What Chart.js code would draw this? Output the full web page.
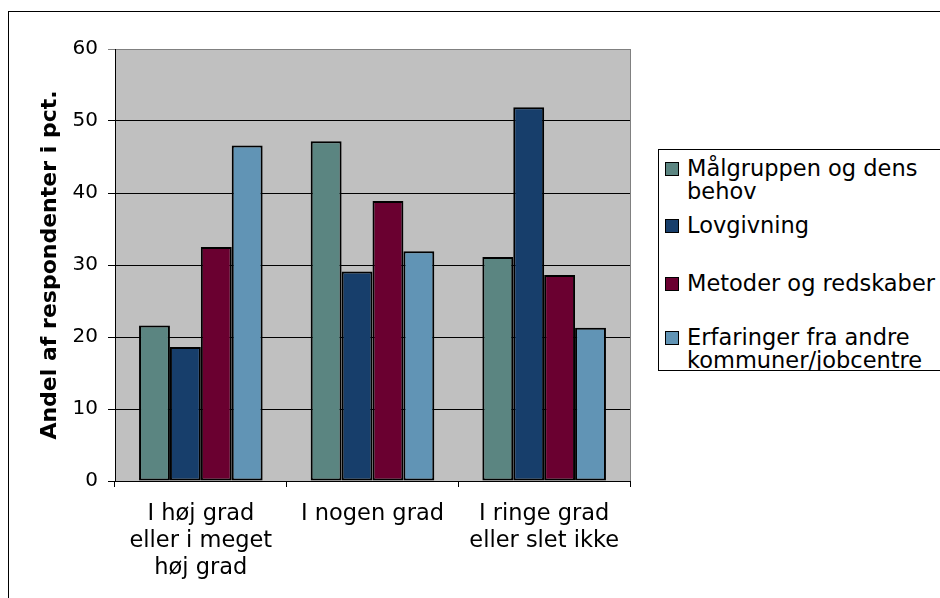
<!DOCTYPE html>
<html>
<head>
<meta charset="utf-8">
<script src="https://cdn.jsdelivr.net/npm/chart.js@4.4.1/dist/chart.umd.min.js"></script>
<style>
  html, body { margin: 0; padding: 0; background: #fff; overflow: hidden; }
  #wrap { position: relative; width: 940px; height: 598px; overflow: hidden; }
  #frame { position: absolute; left: 8px; top: 11px; width: 1000px; height: 700px; border: 1px solid #000; }
  #chart { position: absolute; left: 0; top: 0; }
  #legend { position: absolute; left: 658px; top: 149px; width: 400px; height: 220px; overflow: hidden;
    border: 1px solid #000; background: #fff; font: 22.5px "DejaVu Sans", sans-serif; color: #000; }
  .item { position: absolute; left: 0; line-height: 23px; white-space: pre; }
  .sw { position: absolute; left: 6px; top: 5px; width: 12px; height: 12px; border: 1px solid #000; }
  .txt { margin-left: 28px; }
</style>
</head>
<body>
<div id="wrap">
  <div id="frame"></div>
  <canvas id="chart" width="940" height="598"></canvas>
  <div id="legend"></div>
</div>
<script>
const categories = [
  ["I høj grad", "eller i meget", "høj grad"],
  ["I nogen grad"],
  ["I ringe grad", "eller slet ikke"]
];

const seriesNames = [
  "Målgruppen og dens\nbehov",
  "Lovgivning",
  "Metoder og redskaber",
  "Erfaringer fra andre\nkommuner/jobcentre"
];

const malgruppen = [21.6, 47.2, 31.1];
const lovgivning = [18.6, 29.1, 51.9];
const metoder = [32.5, 38.9, 28.6];
const erfaringer = [46.6, 31.9, 21.3];

const colors = ["#5b8581", "#173e6b", "#6a0030", "#6194b5"];
const seriesValues = [malgruppen, lovgivning, metoder, erfaringer];

const yTitle = "Andel af respondenter i pct.";

// grey plot background + grey frame on the right
const plotBg = {
  id: "plotBg",
  beforeDraw(chart) {
    const a = chart.chartArea;
    const ctx = chart.ctx;
    ctx.save();
    ctx.fillStyle = "#c0c0c0";
    ctx.fillRect(a.left, a.top, a.right - a.left, a.bottom - a.top);
    ctx.strokeStyle = "#808080";
    ctx.lineWidth = 1;
    ctx.beginPath();
    ctx.moveTo(a.right + 0.5, a.top);
    ctx.lineTo(a.right + 0.5, a.bottom);
    ctx.stroke();
    ctx.restore();
  }
};

const datasets = seriesNames.map((name, i) => ({
  label: name,
  data: seriesValues[i],
  backgroundColor: colors[i],
  borderColor: "#000",
  borderWidth: 2,
  borderSkipped: false,
  categoryPercentage: 0.72,
  barPercentage: 1.0
}));

const chart = new Chart(document.getElementById("chart"), {
  type: "bar",
  data: { labels: categories, datasets: datasets },
  options: {
    responsive: false,
    animation: false,
    layout: { padding: { left: 0, top: 49, right: 310, bottom: 0 } },
    plugins: { legend: { display: false }, tooltip: { enabled: false } },
    scales: {
      x: {
        grid: { offset: true, drawOnChartArea: false, drawTicks: true, tickLength: 6, color: "#000" },
        border: { color: "#000", width: 1 },
        ticks: {
          color: "#000",
          padding: 13,
          maxRotation: 0,
          autoSkip: false,
          font: { family: "DejaVu Sans", size: 22.5, lineHeight: 1.22 }
        },
        afterFit: (scale) => { scale.height = 117; }
      },
      y: {
        min: 0,
        max: 60,
        ticks: {
          stepSize: 10,
          color: "#000",
          padding: 10,
          font: { family: "DejaVu Sans", size: 20 }
        },
        grid: {
          tickLength: 7,
          color: (ctx) => (ctx.tick && ctx.tick.value === 60 ? "#808080" : "#000")
        },
        border: { color: "#000", width: 1 },
        title: {
          display: true,
          text: yTitle,
          color: "#000",
          padding: { top: 37, bottom: 0 },
          font: { family: "DejaVu Sans", size: 22, weight: "bold" }
        },
        afterFit: (scale) => { scale.width = 115; }
      }
    }
  },
  plugins: [plotBg]
});

// legend as html so the two-line entries sit like the original
const legendEl = document.getElementById("legend");
const legendTops = [7, 64, 122, 176];
seriesNames.forEach((name, i) => {
  const item = document.createElement("div");
  item.className = "item";
  item.style.top = legendTops[i] + "px";
  const sw = document.createElement("span");
  sw.className = "sw";
  sw.style.background = colors[i];
  const txt = document.createElement("div");
  txt.className = "txt";
  txt.textContent = name;
  item.appendChild(sw);
  item.appendChild(txt);
  legendEl.appendChild(item);
});
</script>
</body>
</html>
